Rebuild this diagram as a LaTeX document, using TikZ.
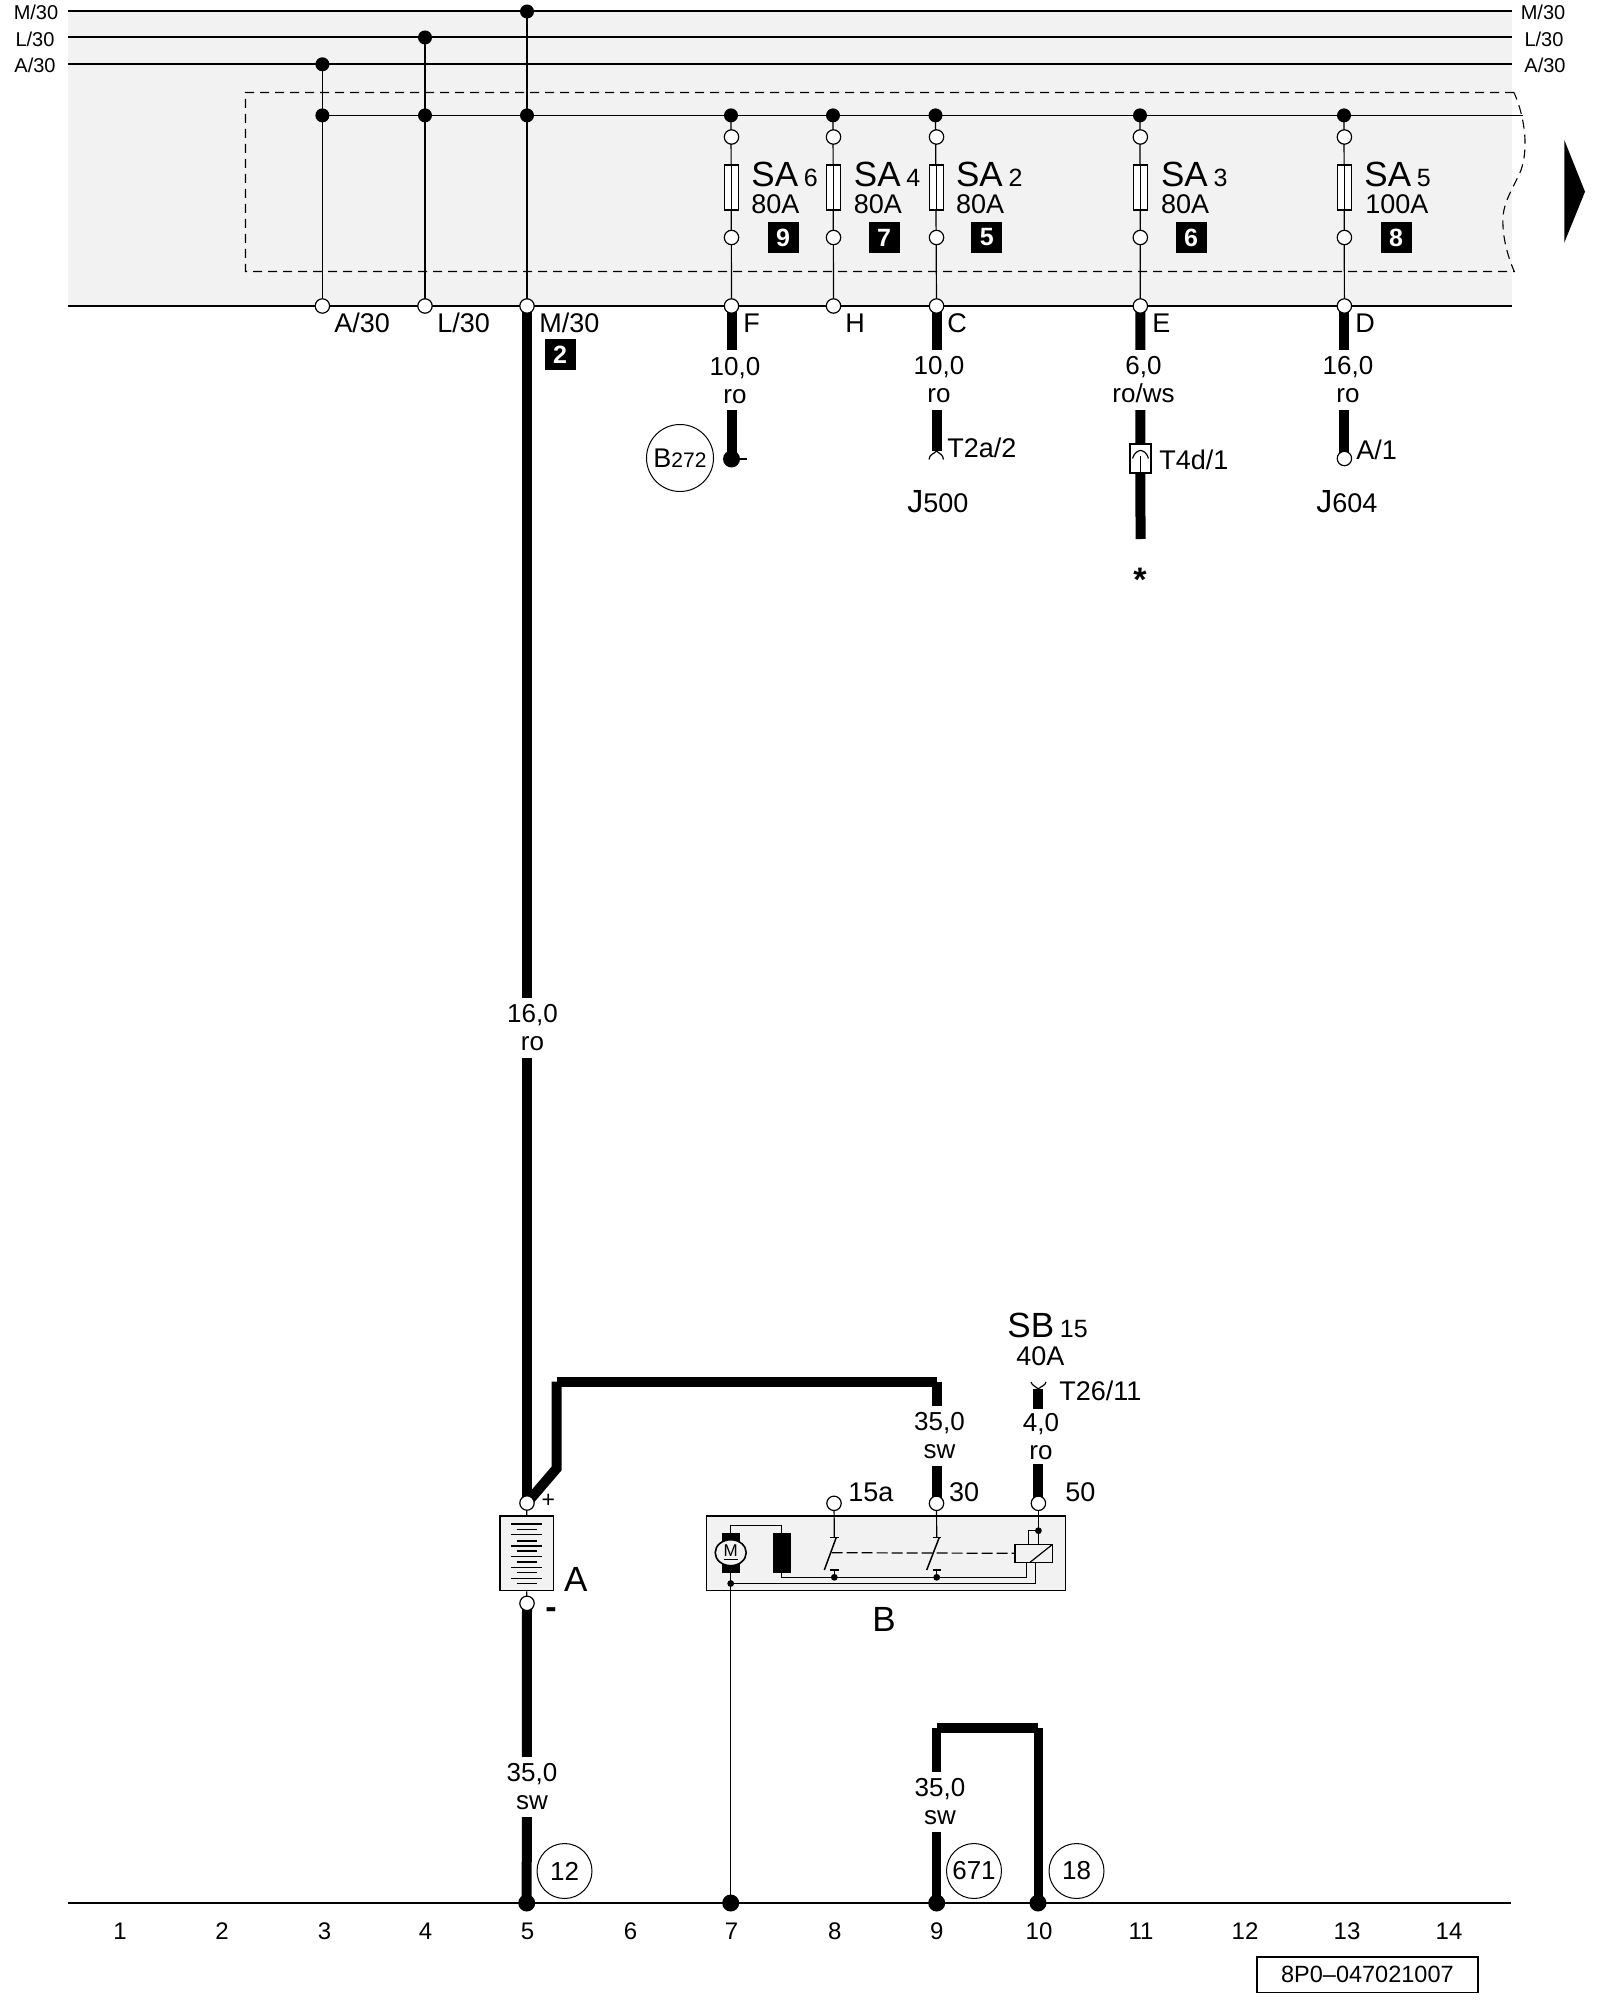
\documentclass[tikz,border=0pt]{standalone}
\usepackage{fontspec}
\setmainfont{Liberation Sans}
\usetikzlibrary{backgrounds,shapes.geometric}
\begin{document}
\begin{tikzpicture}
[
x=0.5pt,y=-0.5pt,
Panel/.style={draw=none,fill=black!05},
Rail/.style={line width=1pt},
Busline/.style={line width=0.75pt},
Thinline/.style={line width=0.6pt},
Wire/.style={line width=5pt},
DashBox/.style={line width=0.55pt,dash pattern=on 4.5pt off 3pt},
Dot/.style={circle,fill=black,inner sep=0pt,minimum size=7pt},
GroundDot/.style={circle,fill=black,inner sep=0pt,minimum size=8.5pt},
SmallDot/.style={circle,fill=black,inner sep=0pt,minimum size=3.4pt},
Pin/.style={circle,draw=black,line width=0.6pt,fill=white,inner sep=0pt,minimum size=7.2pt},
Fuse/.style={rectangle,draw=black,line width=0.6pt,fill=white,inner sep=0pt,minimum width=7pt,minimum height=22.5pt},
Badge/.style={rectangle,fill=black,text=white,inner sep=0pt,minimum size=15.5pt,font=\fontsize{12.5}{14}\selectfont\bfseries},
WireLabel/.style={fill=white,align=center,inner sep=0pt,minimum height=30pt,font=\fontsize{13}{14}\selectfont},
RailText/.style={anchor=base,inner sep=0pt,font=\fontsize{10}{12}\selectfont},
Text/.style={anchor=base west,inner sep=0pt,font=\fontsize{13.5}{15}\selectfont},
Big/.style={anchor=base west,inner sep=0pt,font=\fontsize{17.5}{20}\selectfont},
Column/.style={anchor=base,inner sep=0pt,font=\fontsize{12}{14}\selectfont},
Ring/.style={circle,draw=black,line width=0.5pt,fill=white,inner sep=0pt,minimum size=27.5pt,font=\fontsize{13}{14}\selectfont},
Block/.style={rectangle,draw=black,line width=0.8pt,fill=black!05,inner sep=0pt},
Coil/.style={rectangle,fill=black,inner sep=0pt,minimum width=8.8pt,minimum height=19.7pt},
]

% panel and the two grey boxes lie under everything
\begin{scope}[on background layer]
\fill[Panel] (68,11.5) rectangle (1512,306);
\node[Block,minimum width=26.7pt,minimum height=37.3pt] (battery) at (526.7,1553.3) {};
\node[Block,minimum width=179.6pt,minimum height=37.3pt] (starter) at (885.9,1553.3) {};
\end{scope}

\useasboundingbox (0,0) rectangle (1600,2000);

% rail names
\node[RailText] (railmL) at (36,20) {M/30};
\node[RailText] (raillL) at (35,46.5) {L/30};
\node[RailText] (railaL) at (35,73) {A/30};
\node[RailText] (railmR) at (1543,20) {M/30};
\node[RailText] (raillR) at (1544,46.5) {L/30};
\node[RailText] (railaR) at (1545,73) {A/30};

\coordinate (railmA) at (68,11.5);
\coordinate (railmB) at (1512,11.5);
\coordinate (raillA) at (68,37.5);
\coordinate (raillB) at (1512,37.5);
\coordinate (railaA) at (68,64.3);
\coordinate (railaB) at (1512,64.3);
\coordinate (railbA) at (68,306);
\coordinate (railbB) at (1512,306);
\coordinate (busEnd) at (1522.7,115.4);

% junctions on rails and bus
\node[Dot] (dotA) at (322.4,64.3) {};
\node[Dot] (dotL) at (425,37.5) {};
\node[Dot] (dotM) at (527,11.5) {};
\node[Dot] (busA) at (322.4,115.4) {};
\node[Dot] (busL) at (425,115.4) {};
\node[Dot] (busM) at (527,115.4) {};
\node[Dot] (busF) at (731,115.4) {};
\node[Dot] (busH) at (833,115.4) {};
\node[Dot] (busC) at (935.5,115.4) {};
\node[Dot] (busE) at (1140,115.4) {};
\node[Dot] (busD) at (1344,115.4) {};

\node[Pin] (pinA) at (322.4,306) {};
\node[Pin] (pinL) at (425,306) {};
\node[Pin] (pinM) at (527,306) {};
\node[Pin] (pinF) at (731.5,306) {};
\node[Pin] (pinH) at (833.5,306) {};
\node[Pin] (pinC) at (936.5,306) {};
\node[Pin] (pinE) at (1140.3,306) {};
\node[Pin] (pinD) at (1344.4,306) {};

% fuses
\node[Pin] (topF) at (731.5,137) {};
\node[Pin] (topH) at (833.5,137) {};
\node[Pin] (topC) at (936.5,137) {};
\node[Pin] (topE) at (1140.3,137) {};
\node[Pin] (topD) at (1344.4,137) {};
\node[Pin] (endF) at (731.5,237.5) {};
\node[Pin] (endH) at (833.5,237.5) {};
\node[Pin] (endC) at (936.5,237.5) {};
\node[Pin] (endE) at (1140.3,237.5) {};
\node[Pin] (endD) at (1344.4,237.5) {};
\node[Fuse] (fuseF) at (731.5,187.5) {};
\node[Fuse] (fuseH) at (833.5,187.5) {};
\node[Fuse] (fuseC) at (936.5,187.5) {};
\node[Fuse] (fuseE) at (1140.3,187.5) {};
\node[Fuse] (fuseD) at (1344.4,187.5) {};
\draw[Thinline] (fuseF.north) -- (fuseF.south);
\draw[Thinline] (fuseH.north) -- (fuseH.south);
\draw[Thinline] (fuseC.north) -- (fuseC.south);
\draw[Thinline] (fuseE.north) -- (fuseE.south);
\draw[Thinline] (fuseD.north) -- (fuseD.south);

\node[Big] (saF) at (751,187) {SA\,{\fontsize{12.5}{14}\selectfont 6}};
\node[Big] (saH) at (853.5,187) {SA\,{\fontsize{12.5}{14}\selectfont 4}};
\node[Big] (saC) at (955.6,187) {SA\,{\fontsize{12.5}{14}\selectfont 2}};
\node[Big] (saE) at (1160.7,187) {SA\,{\fontsize{12.5}{14}\selectfont 3}};
\node[Big] (saD) at (1364,187) {SA\,{\fontsize{12.5}{14}\selectfont 5}};
\node[Text] (ampF) at (751,214) {80A};
\node[Text] (ampH) at (853.5,214) {80A};
\node[Text] (ampC) at (955.6,214) {80A};
\node[Text] (ampE) at (1160.7,214) {80A};
\node[Text] (ampD) at (1365,214) {100A};
\node[Badge] (badgeF) at (783,237.5) {9};
\node[Badge] (badgeH) at (884,237.5) {7};
\node[Badge] (badgeC) at (986.7,237.5) {5};
\node[Badge] (badgeE) at (1191,237.5) {6};
\node[Badge] (badgeD) at (1396,237.5) {8};

% pin names below the panel
\node[Text] (nameA) at (334,333) {A/30};
\node[Text] (nameL) at (437,333) {L/30};
\node[Text] (nameM) at (539,333) {M/30};
\node[Text] (nameF) at (743,333) {F};
\node[Text] (nameH) at (845,333) {H};
\node[Text] (nameC) at (947,333) {C};
\node[Text] (nameE) at (1152,333) {E};
\node[Text] (nameD) at (1355,333) {D};
\node[Badge] (badgeM) at (560,355) {2};

% wire sizes
\node[WireLabel] (sizeM) at (532.5,1028) {16,0\\ro};
\node[WireLabel] (sizeF) at (735,380.5) {10,0\\ro};
\node[WireLabel] (sizeC) at (939,380) {10,0\\ro};
\node[WireLabel] (sizeE) at (1143.5,380) {6,0\\ro/ws};
\node[WireLabel] (sizeD) at (1348,380) {16,0\\ro};
\node[WireLabel] (sizeB) at (939.5,1435.5) {35,0\\sw};
\node[WireLabel,minimum height=27.5pt] (sizeS) at (1041,1436.5) {4,0\\ro};
\node[WireLabel] (sizeN) at (532,1786.5) {35,0\\sw};
\node[WireLabel] (sizeG) at (940,1802) {35,0\\sw};

% wire ends at the top
\node[GroundDot] (dotF) at (731.5,459) {};
\node[Ring,minimum size=33.5pt] (ringB) at (680,458) {\fontsize{13.5}{15}\selectfont B\fontsize{10.5}{12}\selectfont 272};
\coordinate (tickF) at (747,459);
\coordinate (forkC) at (936.5,451);
\draw[Thinline] (929,459.5) .. controls (929.5,454) and (934,454) .. (forkC) .. controls (939,454) and (943,454) .. (943.5,459.5);
\node[Text] (plugC) at (947,458) {T2a/2};
\node[Text] (unitC) at (907,512) {{\fontsize{16}{18}\selectfont J}500};
\node[Block,fill=white,line width=0.6pt,minimum width=10.5pt,minimum height=14.5pt] (connE) at (1140.5,458.5) {};
\draw[Thinline] (1132.5,458.5) .. controls (1134,453) and (1138,450.5) .. (1140.5,450.5) .. controls (1143,450.5) and (1147,453) .. (1148.5,458.5);
\draw[Thinline] (1140.5,456.5) -- (connE.south);
\node[Text] (plugE) at (1159,469) {T4d/1};
\coordinate (cutE) at (1140.5,539);
\node[anchor=base,inner sep=0pt,font=\fontsize{17}{20}\selectfont\bfseries] (star) at (1140,591) {*};
\node[Pin] (pinJ) at (1344.4,458.5) {};
\node[Text] (plugD) at (1356,459) {A/1};
\node[Text] (unitD) at (1316,512) {{\fontsize{16}{18}\selectfont J}604};

% arrow to the next sheet
\node[inner sep=0pt] (arrowA) at (1564.3,140) {};
\node[inner sep=0pt] (arrowB) at (1585,191.7) {};
\node[inner sep=0pt] (arrowC) at (1564.3,242.7) {};
\fill (arrowA.center) -- (arrowB.center) -- (arrowC.center) -- cycle;

% battery
\node[Pin] (pinPlus) at (527,1503) {};
\node[Pin] (pinMinus) at (527,1603.3) {};
\draw[Thinline,line width=0.8pt] (511.4,1524)--(542,1524) (511.4,1534.3)--(542,1534.3) (511.4,1545.7)--(542,1545.7);
\draw[Thinline,line width=0.8pt] (511.4,1556.3)--(542,1556.3) (511.4,1567.3)--(542,1567.3) (511.4,1578.3)--(542,1578.3);
\draw[Thinline,line width=0.8pt] (516.7,1529.3)--(536.7,1529.3) (516.7,1540.7)--(536.7,1540.7) (516.7,1551)--(536.7,1551);
\draw[Thinline,line width=0.8pt] (516.7,1562)--(536.7,1562) (516.7,1572.3)--(536.7,1572.3) (516.7,1583.3)--(536.7,1583.3);
\node[anchor=base,inner sep=0pt,font=\fontsize{11.5}{14}\selectfont] (plus) at (548.3,1507) {+};
\node[anchor=base,inner sep=0pt,font=\fontsize{17}{20}\selectfont\bfseries] (minus) at (551,1618.7) {-};
\node[Big] (nameBat) at (563.7,1591.7) {A};

% starter
\node[Pin] (pinS) at (834,1503.3) {};
\node[Pin] (pinT) at (936.5,1503.3) {};
\node[Pin] (pinU) at (1038.4,1503.3) {};
\node[Text] (nameS) at (848,1501.7) {15a};
\node[Text] (nameT) at (948.6,1501.7) {30};
\node[Text] (nameU) at (1065,1501.7) {50};
\node[Big] (nameStarter) at (872,1631.7) {B};
\node[Coil] (brush) at (730.7,1553) {};
\node[ellipse,draw=black,line width=0.8pt,fill=black!05,inner sep=0pt,minimum width=15.5pt,minimum height=13pt,font=\fontsize{8.5}{10}\selectfont] (motor) at (730.7,1552.7) {\underline{M}};
\node[Coil] (field) at (781.7,1553) {};
\node[rectangle,draw=black,line width=0.7pt,fill=black!05,inner sep=0pt,minimum width=18.8pt,minimum height=9pt] (relay) at (1033.8,1553.3) {};
\draw[Thinline] (1030,1562.3) -- (1051.7,1545);
\node[SmallDot] (dotS) at (834.3,1577.3) {};
\node[SmallDot] (dotT) at (936.7,1577.3) {};
\node[SmallDot] (dotU) at (1038.4,1530.7) {};
\node[SmallDot] (dotV) at (730.7,1583.5) {};
\coordinate (contS) at (834.3,1537.3);
\coordinate (contT) at (936.7,1537.3);
\coordinate (baseS) at (834.3,1570);
\coordinate (baseT) at (936.7,1570);
\coordinate (tapA) at (1026.7,1577.3);
\coordinate (tapB) at (1035.7,1583.5);
\coordinate (tapC) at (1028.3,1544.3);
\coordinate (tapD) at (730.7,1525.7);
\coordinate (tapE) at (781.7,1525.7);
\draw[Thinline] (830.3,1537.3) -- (839,1537.3);
\draw[Thinline] (830.3,1570) -- (839,1570);
\draw[Thinline] (932.7,1537.3) -- (941.3,1537.3);
\draw[Thinline] (932.7,1570) -- (941.3,1570);
\draw[Thinline,line width=0.75pt] (836.3,1537.3) -- (824.3,1570);
\draw[Thinline,line width=0.75pt] (939.3,1537.3) -- (926.7,1570);

% source of SB
\node[Big] (fuseSB) at (1007,1337) {SB\,{\fontsize{12.5}{14}\selectfont 15}};
\node[Text] (ampSB) at (1016,1365.7) {40A};
\coordinate (forkS) at (1038.4,1389);
\draw[Thinline] (1031,1382) .. controls (1032,1386) and (1036,1386) .. (forkS) .. controls (1041,1386) and (1045,1386) .. (1046,1382);
\node[Text] (plugS) at (1059,1400) {T26/11};

% earth strip
\node[GroundDot] (earthN) at (526.7,1903) {};
\node[GroundDot] (earthM) at (730.7,1903) {};
\node[GroundDot] (earthB) at (936.7,1903) {};
\node[GroundDot] (earthC) at (1038,1903) {};
\coordinate (stripA) at (68,1903);
\coordinate (stripB) at (1511,1903);
\node[Ring] (ringN) at (564.5,1871) {12};
\node[Ring] (ringB9) at (974,1871) {671};
\node[Ring] (ringC) at (1076.5,1871) {18};

\node[Column] (num1) at (120,1939) {1};
\node[Column] (num2) at (222,1939) {2};
\node[Column] (num3) at (324.5,1939) {3};
\node[Column] (num4) at (425.5,1939) {4};
\node[Column] (num5) at (527.5,1939) {5};
\node[Column] (num6) at (630.6,1939) {6};
\node[Column] (num7) at (731.6,1939) {7};
\node[Column] (num8) at (834.7,1939) {8};
\node[Column] (num9) at (936.7,1939) {9};
\node[Column] (num10) at (1039,1939) {10};
\node[Column] (num11) at (1141,1939) {11};
\node[Column] (num12) at (1245,1939) {12};
\node[Column] (num13) at (1347,1939) {13};
\node[Column] (num14) at (1449,1939) {14};

\node[rectangle,draw=black,line width=0.7pt,inner sep=0pt,minimum width=110.6pt,minimum height=17.6pt,font=\fontsize{11.75}{14}\selectfont] (partNo) at (1367.4,1974.7) {8P0–047021007};

% all lines run under the nodes
\begin{scope}[on background layer]
\draw[Rail] (railmA) -- (railmB);
\draw[Rail] (raillA) -- (raillB);
\draw[Rail] (railaA) -- (railaB);
\draw[Rail] (railbA) -- (railbB);
\draw[Rail] (stripA) -- (stripB);
\draw[Busline] (busA.center) -- (busEnd);

\draw[DashBox] (1514,92.5) -- (245.5,92.5) -- (245.5,271.5) -- (1514.3,271.5)
 .. controls (1507,255) and (1502,235) .. (1503,217)
 .. controls (1504,200) and (1515,185) .. (1521,170)
 .. controls (1528,150) and (1526,120) .. (1514,92.5);

\draw[Thinline] (dotA.center) -- (pinA.center);
\draw[Thinline] (dotL.center) -- (pinL.center);
\draw[Thinline] (dotM.center) -- (pinM.center);
\draw[Thinline] (busF.center) -- (pinF.center);
\draw[Thinline] (busH.center) -- (pinH.center);
\draw[Thinline] (busC.center) -- (pinC.center);
\draw[Thinline] (busE.center) -- (pinE.center);
\draw[Thinline] (busD.center) -- (pinD.center);

\draw[Wire] (pinM.center) -- (pinPlus.center);
\draw[Wire] (pinF.center) -- (dotF.center);
\draw[Thinline] (dotF.center) -- (tickF);
\draw[Wire] (pinC.center) -- (forkC);
\draw[Wire] (pinE.center) -- (cutE);
\draw[Wire] (pinD.center) -- (pinJ.center);

\coordinate (bendA) at (556.7,1468.3);
\coordinate (bendB) at (556.7,1381.7);
\coordinate (bendC) at (936.5,1381.7);
\draw[Wire] (pinPlus.center) -- (bendA) -- (bendB);
\draw[Wire] (bendB) -- (bendC);
\draw[Wire] (bendC) -- (pinT.center);
\draw[Wire] (forkS) -- (pinU.center);

\draw[Thinline] (pinPlus.center) -- (battery.north);
\draw[Thinline] (battery.south) -- (pinMinus.center);
\draw[Wire] (pinMinus.center) -- (earthN.center);

\coordinate (bridgeA) at (936.7,1728.3);
\coordinate (bridgeB) at (1038,1728.3);
\draw[Wire] (bridgeA) -- (bridgeB);
\draw[Wire,line width=4.5pt] (bridgeA) -- (earthB.center);
\draw[Wire,line width=4.5pt] (bridgeB) -- (earthC.center);

\draw[Thinline] (pinS.center) -- (contS);
\draw[Thinline] (pinT.center) -- (contT);
\draw[Thinline] (baseS) -- (dotS.center);
\draw[Thinline] (baseT) -- (dotT.center);
\draw[Thinline] (pinU.center) -- (relay.north -| pinU);
\draw[Thinline] (dotU.center) -| (tapC);
\draw[Thinline] (brush.north) -- (tapD) -- (tapE) -- (field.north);
\draw[Thinline] (field.south) |- (tapA) -- (tapA |- relay.south);
\draw[Thinline] (brush.south) -- (dotV.center) -- (tapB) -- (tapB |- relay.south);
\draw[Thinline,line width=0.5pt] (dotV.center) -- (earthM.center);
\draw[Thinline,dash pattern=on 5.5pt off 2pt] (831.7,1552.7) -- (relay.west);
\end{scope}

\end{tikzpicture}
\end{document}
